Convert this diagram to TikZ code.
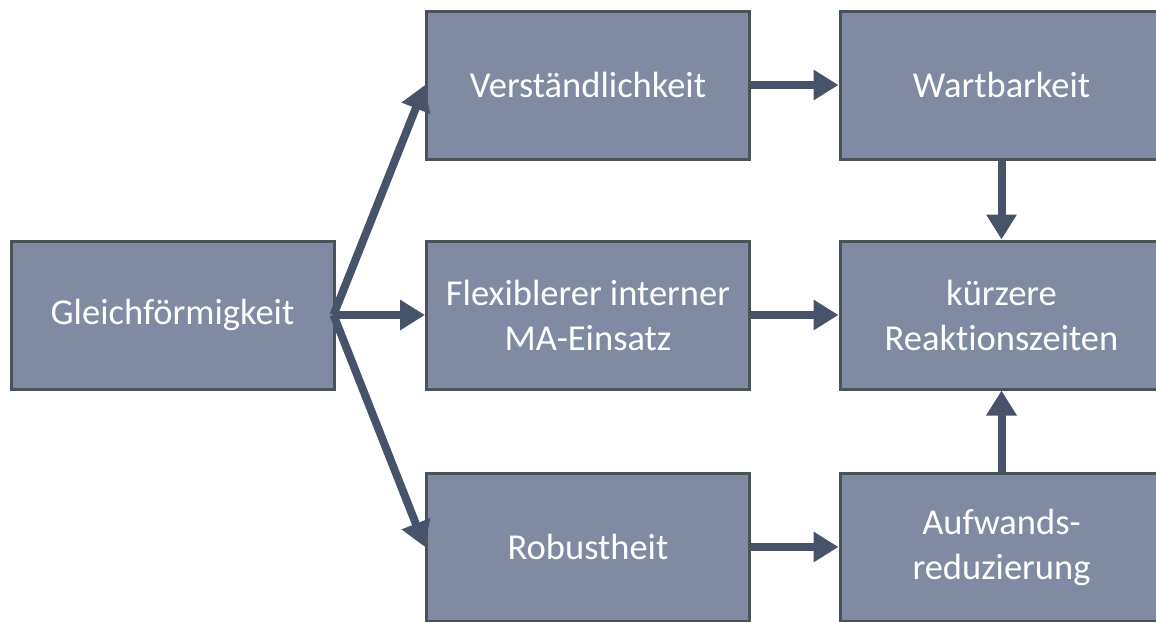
\documentclass[tikz,border=0pt]{standalone}
\usepackage{fontspec}
\setmainfont[RawFeature=-liga]{Carlito}
\usetikzlibrary{arrows.meta}
\definecolor{boxfill}{HTML}{808BA3}
\definecolor{boxline}{HTML}{4A5358}
\definecolor{arrowcol}{HTML}{475369}
\tikzset{
  box/.style={draw=boxline, line width=3pt, fill=boxfill, minimum width=323pt,
    minimum height=148pt, text=white, align=center, font=\fontsize{36.5}{45}\selectfont, inner sep=0pt},
  link/.style={draw=arrowcol, line width=8pt, -{Triangle[width=29pt,length=25pt]}}
}
\begin{document}
\begin{tikzpicture}[x=1pt,y=-1pt]
\useasboundingbox (0,0) rectangle (1156,621);
\clip (0,0) rectangle (1156,621);
\node[box] (g) at (172.5,315) {Gleichförmigkeit};
\node[box] (v) at (588,85) {Verständlichkeit};
\node[box] (f) at (588,315) {Flexiblerer interner\\MA-Einsatz};
\node[box] (r) at (588,547) {Robustheit};
\node[box] (w) at (1001.5,85) {Wartbarkeit};
\node[box] (k) at (1001.5,315) {kürzere\\Reaktionszeiten};
\node[box] (a) at (1001.5,547) {Aufwands-\\reduzierung};
\coordinate (fan) at ([xshift=-2pt]g.east);
\draw[link] (fan) -- (v.west);
\draw[link] (fan) -- (f.west);
\draw[link] (fan) -- (r.west);
\draw[link] (v.east) -- (w.west);
\draw[link] (f.east) -- (k.west);
\draw[link] (r.east) -- (a.west);
\draw[link] (w.south) -- (k.north);
\draw[link] (a.north) -- (k.south);
\end{tikzpicture}
\end{document}
